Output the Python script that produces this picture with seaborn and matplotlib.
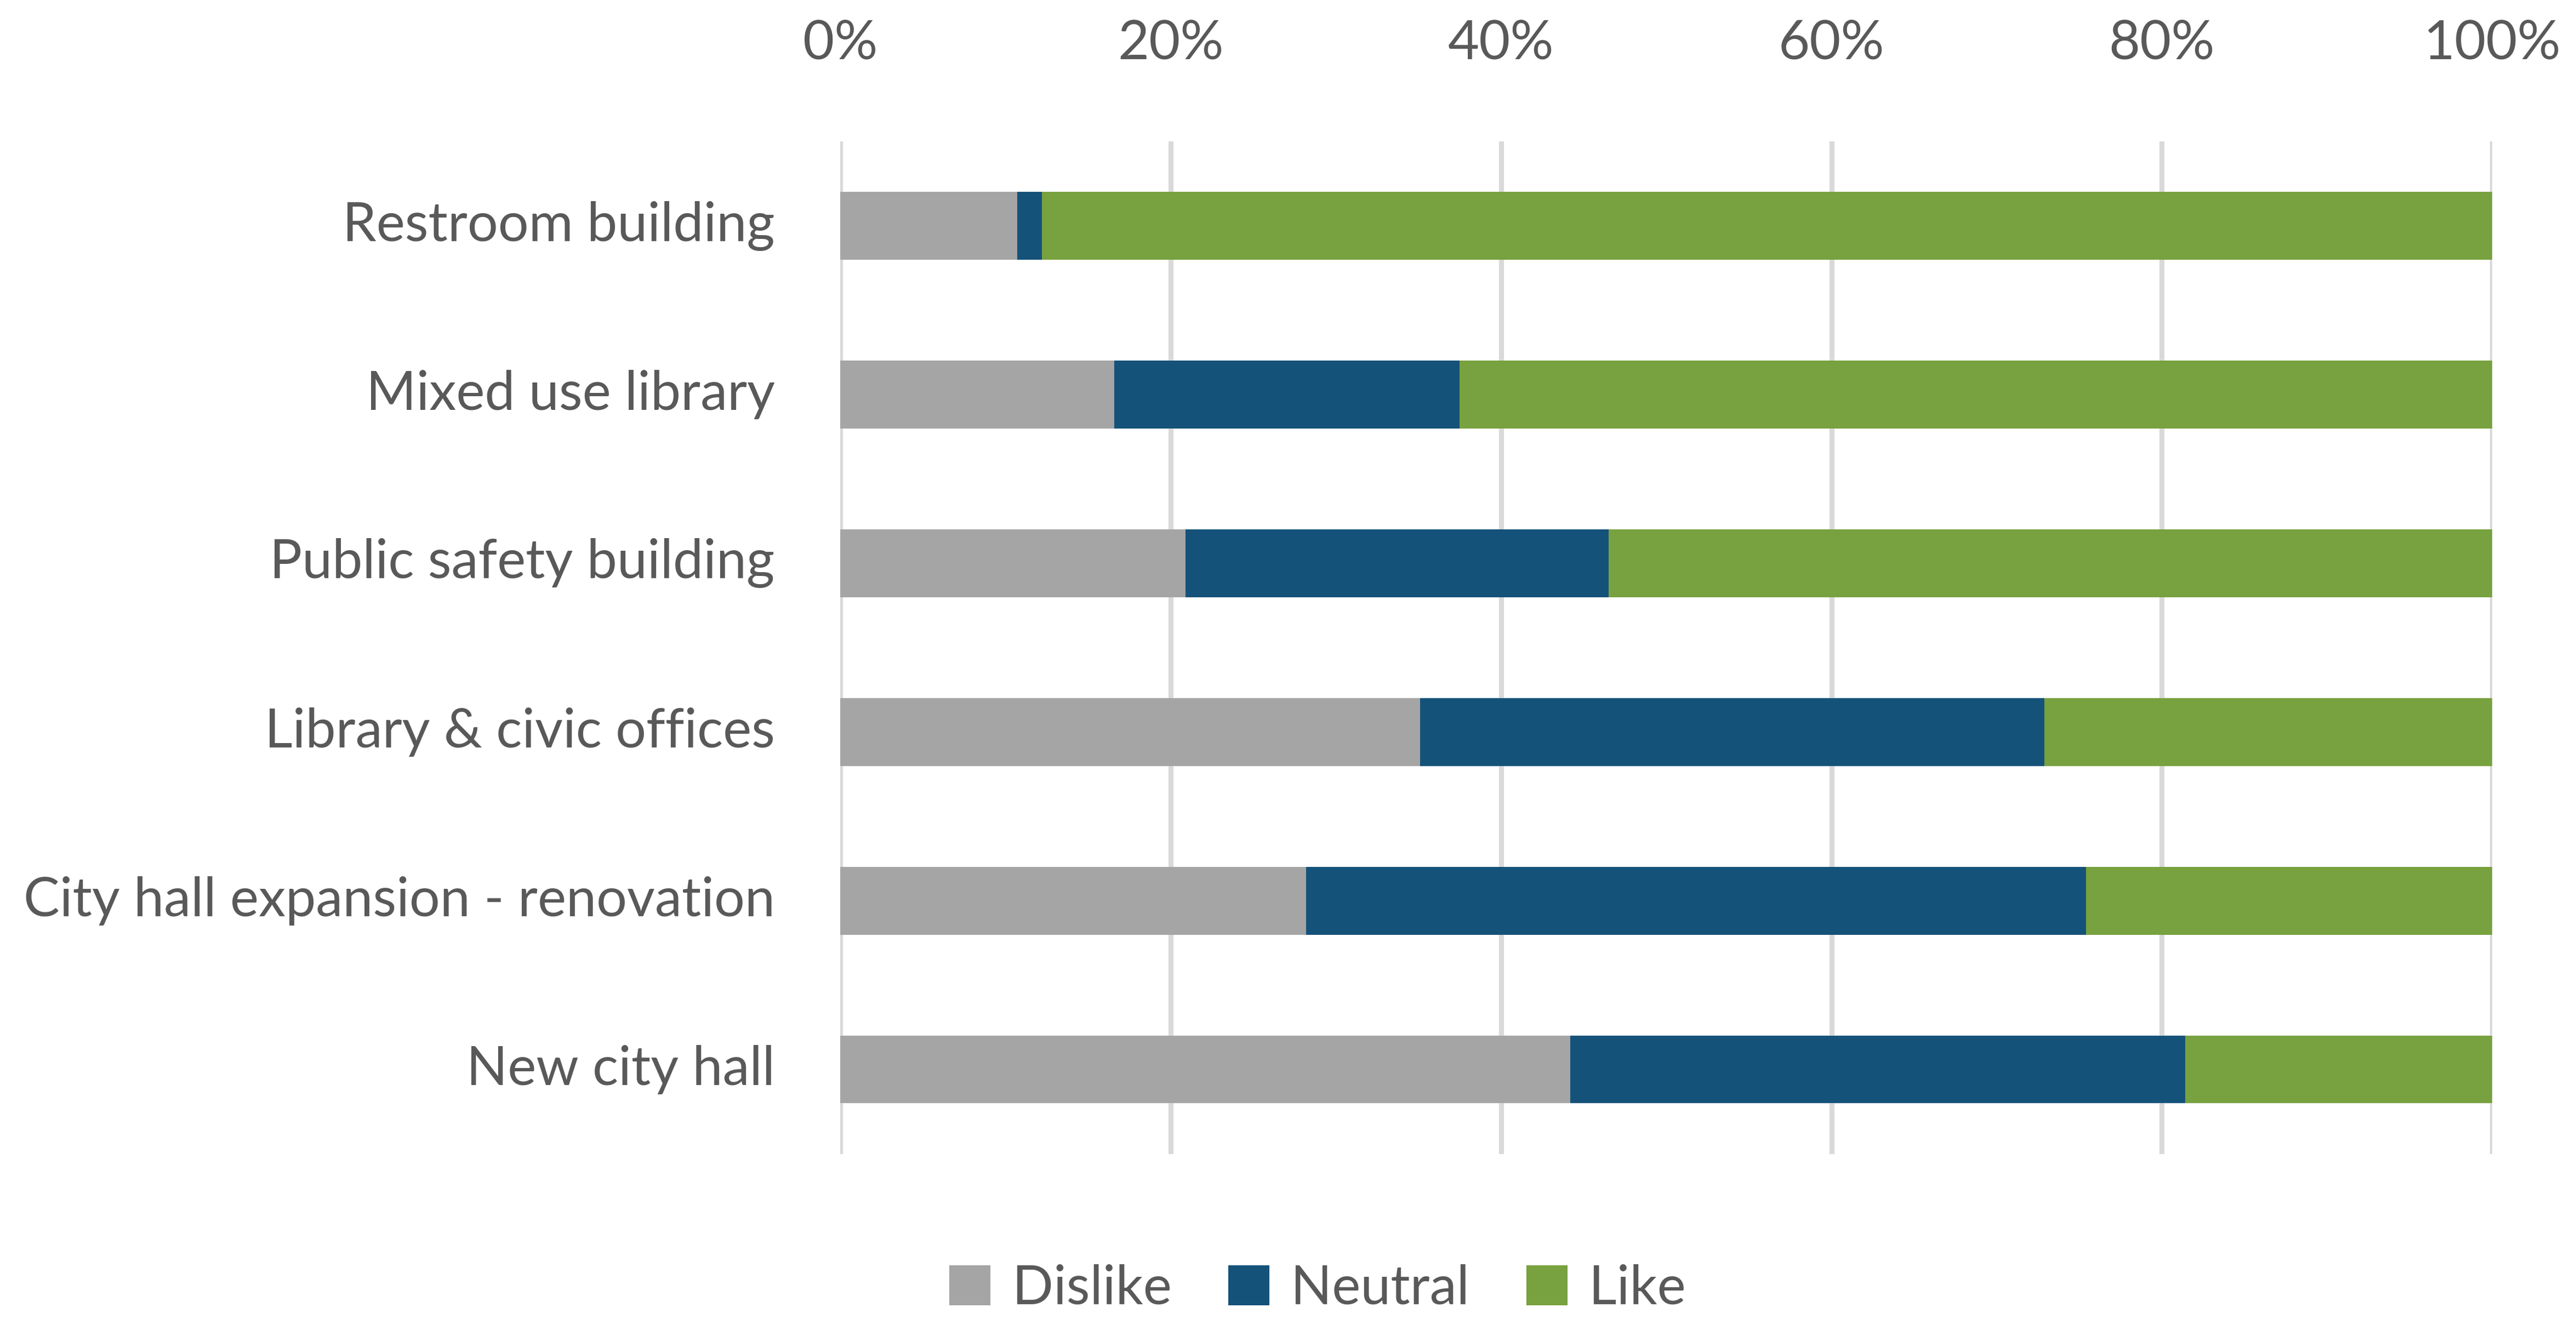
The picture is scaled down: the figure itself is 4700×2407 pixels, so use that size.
import matplotlib
matplotlib.use("Agg")
import matplotlib.pyplot as plt
from matplotlib.patches import Patch
import numpy as np
import pandas as pd
import seaborn as sns

# Survey responses per building option (percent of respondents)
categories = [
    "Restroom building",
    "Mixed use library",
    "Public safety building",
    "Library & civic offices",
    "City hall expansion - renovation",
    "New city hall",
]
dislike = [10.7, 16.6, 20.9, 35.1, 28.2, 44.2]
neutral = [1.5, 20.9, 25.6, 37.8, 47.2, 37.2]
like = [87.8, 62.5, 53.5, 27.1, 24.6, 18.6]

series_names = ["Dislike", "Neutral", "Like"]
series_colors = ["#A5A5A5", "#155279", "#78A13F"]
tick_values = [0, 20, 40, 60, 80, 100]
tick_labels = ["0%", "20%", "40%", "60%", "80%", "100%"]

sns.set_theme(style="white")
plt.rcParams["font.family"] = ["Lato", "DejaVu Sans"]
text_color = "#595959"
font_size = 71

fig = plt.figure(figsize=(47.0, 24.07), dpi=100)
ax = fig.add_axes([0.3262, 0.1251, 0.6413, 0.7677])

# Stacked bars: draw cumulative totals, widest layer first
df = pd.DataFrame({"category": categories, "Dislike": dislike,
                   "Neutral": neutral, "Like": like})
cum = df[series_names].cumsum(axis=1)
for name, color in reversed(list(zip(series_names, series_colors))):
    sns.barplot(x=cum[name], y=df["category"], orient="h", color=color,
                width=0.4, saturation=1, linewidth=0, ax=ax, zorder=3)

ax.set_xlim(0, 100)
ax.set_ylim(5.5, -0.5)
ax.set_xticks(tick_values)
ax.set_xticklabels(tick_labels)
ax.xaxis.tick_top()
ax.grid(axis="x", color="#D9D9D9", linewidth=6.5, zorder=0)
ax.grid(axis="y", visible=False)
ax.set_axisbelow(True)
for s in ax.spines.values():
    s.set_visible(False)
ax.set_xlabel("")
ax.set_ylabel("")
ax.tick_params(axis="x", length=0, pad=96, labelsize=font_size, labelcolor=text_color,
               top=True, bottom=False, labeltop=True, labelbottom=False)
ax.tick_params(axis="y", length=0, pad=86, labelsize=font_size, labelcolor=text_color)
for lab in ax.get_yticklabels():
    lab.set_verticalalignment("center")

handles = [Patch(facecolor=c, edgecolor="none", label=n)
           for n, c in zip(series_names, series_colors)]
leg = fig.legend(handles=handles, loc="center", ncol=3,
                 bbox_to_anchor=(2404 / 4700, 1 - 2352 / 2407),
                 frameon=False, fontsize=font_size, handlelength=0.76,
                 handleheight=0.76, handletextpad=0.4, columnspacing=1.05)
for t in leg.get_texts():
    t.set_color(text_color)

fig.savefig("out.png", dpi=100, facecolor="white")
